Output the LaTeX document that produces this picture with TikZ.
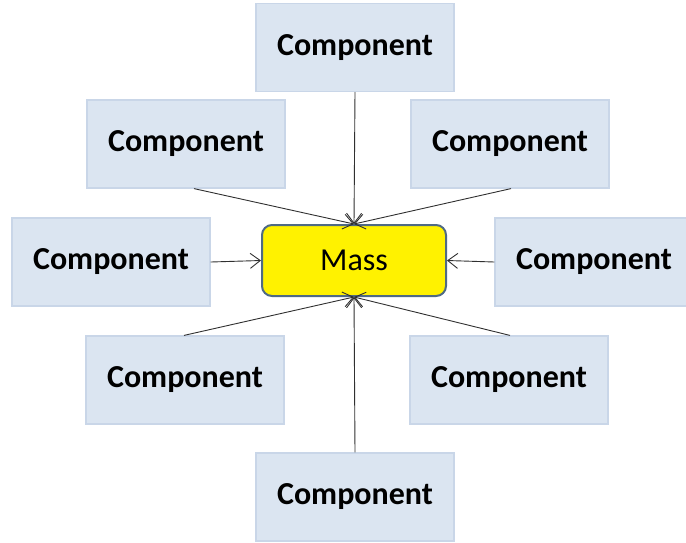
\documentclass[tikz,border=0pt]{standalone}
\usepackage{fontspec}
\setmainfont{Carlito}
\usetikzlibrary{arrows.meta}
\definecolor{compfill}{HTML}{DBE5F1}
\definecolor{compedge}{HTML}{C9D6E8}
\definecolor{massedge}{HTML}{4F6A84}
\definecolor{linec}{HTML}{303030}
\tikzset{
  comp/.style={draw=compedge, line width=1.2pt, fill=compfill, minimum width=198pt, minimum height=88pt, inner sep=0pt,
    font=\fontsize{32}{36}\selectfont\bfseries},
  massbox/.style={draw=massedge, line width=2pt, fill=yellow, rounded corners=10pt, minimum width=184pt, minimum height=71pt, inner sep=0pt,
    font=\fontsize{32}{36}\selectfont},
  conn/.style={draw=linec, line width=0.9pt, -{Straight Barb[length=10pt,width=15pt]}}
}
\begin{document}
\begin{tikzpicture}[x=1pt,y=-1pt]
\useasboundingbox (0,0) rectangle (686,542);
\node[comp] (t) at (355,47.5) {Component};
\node[comp] (ul) at (186,144) {Component};
\node[comp] (ur) at (510,144) {Component};
\node[comp] (l) at (111,262) {Component};
\node[comp] (r) at (594,262) {Component};
\node[comp] (ll) at (185,380) {Component};
\node[comp] (lr) at (509,380) {Component};
\node[comp] (b) at (355,497) {Component};
\node[massbox] (m) at (354,260.5) {Mass};
\draw[conn] (t.south) -- (m.north);
\draw[conn] ([xshift=8pt]ul.south) -- (m.north);
\draw[conn] ([xshift=1pt]ur.south) -- (m.north);
\draw[conn] (l.east) -- (m.west);
\draw[conn] (r.west) -- (m.east);
\draw[conn] ([xshift=-1pt]ll.north) -- (m.south);
\draw[conn] ([xshift=1pt]lr.north) -- (m.south);
\draw[conn] (b.north) -- (m.south);
\end{tikzpicture}
\end{document}
